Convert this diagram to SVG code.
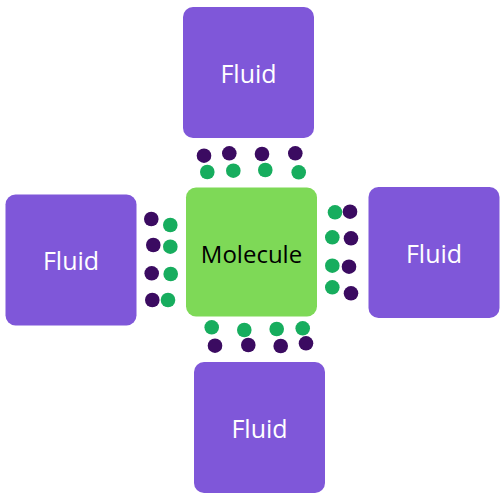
<svg xmlns="http://www.w3.org/2000/svg" width="500" height="500" viewBox="0 0 500 500">
<style>
.fluid{fill:#7f57d9}
.mol{fill:#7ed957}
.t{font-family:"Open Sans","Liberation Sans",sans-serif;font-size:25px;text-anchor:middle;dominant-baseline:central}
.tw{fill:#ffffff}
.tb{fill:#000000;font-size:24px}
.p{fill:#3b0b61}
.g{fill:#17ad5e}
</style>
<rect width="500" height="500" fill="#ffffff"/>
<g id="fluid-top"><rect class="fluid" x="183" y="7" width="131" height="131" rx="10"/><text class="t tw" x="248.5" y="72.5">Fluid</text></g>
<g id="fluid-left"><rect class="fluid" x="5.5" y="194.5" width="131" height="131" rx="10"/><text class="t tw" x="71" y="260">Fluid</text></g>
<g id="fluid-right"><rect class="fluid" x="368.5" y="187" width="131" height="131" rx="10"/><text class="t tw" x="434" y="252.5">Fluid</text></g>
<g id="fluid-bottom"><rect class="fluid" x="194" y="362" width="131" height="131" rx="10"/><text class="t tw" x="259.5" y="427.5">Fluid</text></g>
<g id="molecule"><rect class="mol" x="186" y="187.5" width="131" height="129" rx="10"/><text class="t tb" x="251.5" y="253">Molecule</text></g>
<g id="particles">
<circle class="p" cx="204" cy="155.7" r="7.3"/><circle class="p" cx="229.3" cy="153.3" r="7.3"/><circle class="p" cx="262" cy="154" r="7.3"/><circle class="p" cx="295.3" cy="153.3" r="7.3"/>
<circle class="g" cx="207.3" cy="172" r="7.3"/><circle class="g" cx="233.3" cy="170.7" r="7.3"/><circle class="g" cx="265.3" cy="170" r="7.3"/><circle class="g" cx="298.7" cy="172.3" r="7.3"/>
<circle class="p" cx="151.3" cy="219" r="7.3"/><circle class="p" cx="153.3" cy="245" r="7.3"/><circle class="p" cx="151.7" cy="273.3" r="7.3"/><circle class="p" cx="152.3" cy="300" r="7.3"/>
<circle class="g" cx="170.3" cy="225" r="7.3"/><circle class="g" cx="170.3" cy="246.7" r="7.3"/><circle class="g" cx="170.7" cy="274" r="7.3"/><circle class="g" cx="168" cy="300" r="7.3"/>
<circle class="g" cx="335" cy="212.3" r="7.3"/><circle class="g" cx="332.3" cy="237.3" r="7.3"/><circle class="g" cx="332.3" cy="265.7" r="7.3"/><circle class="g" cx="332.3" cy="287.3" r="7.3"/>
<circle class="p" cx="350" cy="211.7" r="7.3"/><circle class="p" cx="351" cy="238.3" r="7.3"/><circle class="p" cx="349" cy="266.7" r="7.3"/><circle class="p" cx="351" cy="293.3" r="7.3"/>
<circle class="g" cx="211.7" cy="327.3" r="7.3"/><circle class="g" cx="244.3" cy="330" r="7.3"/><circle class="g" cx="276.7" cy="329" r="7.3"/><circle class="g" cx="302.7" cy="328.3" r="7.3"/>
<circle class="p" cx="215" cy="345.7" r="7.3"/><circle class="p" cx="248.3" cy="345" r="7.3"/><circle class="p" cx="280.7" cy="346" r="7.3"/><circle class="p" cx="306" cy="343.3" r="7.3"/>
</g>
</svg>
